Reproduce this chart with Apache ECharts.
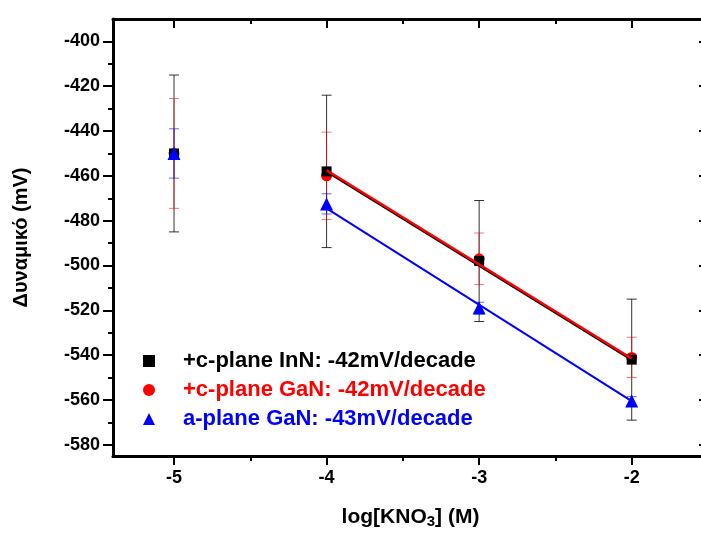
<!DOCTYPE html>
<html>
<head>
<meta charset="utf-8">
<script src="https://cdn.jsdelivr.net/npm/echarts@6/dist/echarts.min.js"></script>
<style>
  html, body { margin: 0; padding: 0; background: #fff; }
  #chart { width: 701px; height: 536px; }
</style>
</head>
<body>
<div id="chart"></div>
<script>
// x = log[KNO3]
const logConc = [-5, -4, -3, -2];
// +c-plane InN
const innC = [-450, -458, -498, -542];
const innCErr = [35, 34, 27, 27];
// +c-plane GaN
const ganC = [-450, -460, -497, -541];
const ganCErr = [24.5, 19.5, 11.5, 9];
// a-plane GaN
const ganA = [-450, -472.5, -519, -560.5];
const ganAErr = [11, 4.5, 2.6, 2];
// linear fits (-4 .. -2)
const fitX = [-4, -2];
const innCFit = [-458, -542];
const ganCFit = [-457.5, -541.5];
const ganAFit = [-474.5, -560.5];
// ticks
const xTicks = [-5, -4, -3, -2];
const xMinor = [-4.5, -3.5, -2.5];
const yTicks = [-580, -560, -540, -520, -500, -480, -460, -440, -420, -400];
const yMinor = [-570, -550, -530, -510, -490, -470, -450, -430, -410];

const names = ['+c-plane InN: -42mV/decade', '+c-plane GaN: -42mV/decade', 'a-plane GaN: -43mV/decade'];
const font = '"Liberation Sans", Arial, sans-serif';

const chart = echarts.init(document.getElementById('chart'));

function errorBars(vals, errs, color, opacity) {
  return {
    type: 'custom',
    name: 'err' + color,
    data: logConc.map((x, i) => [x, vals[i], errs[i]]),
    encode: { x: 0, y: 1 },
    silent: true,
    renderItem(params, api) {
      const x = api.value(0), y = api.value(1), e = api.value(2);
      const top = api.coord([x, y + e]);
      const bot = api.coord([x, y - e]);
      const hw = 5;
      const style = { stroke: color, lineWidth: 1, opacity: opacity };
      return {
        type: 'group',
        children: [
          { type: 'line', shape: { x1: top[0], y1: top[1], x2: bot[0], y2: bot[1] }, style },
          { type: 'line', shape: { x1: top[0] - hw, y1: top[1], x2: top[0] + hw, y2: top[1] }, style },
          { type: 'line', shape: { x1: bot[0] - hw, y1: bot[1], x2: bot[0] + hw, y2: bot[1] }, style },
        ],
      };
    },
  };
}

function fitLine(ys, color, width) {
  return {
    type: 'line',
    name: 'fit' + color,
    data: fitX.map((x, i) => [x, ys[i]]),
    symbol: 'none',
    lineStyle: { color: color, width: width },
    silent: true,
  };
}

function scatter(name, vals, symbol, size, color) {
  return {
    type: 'scatter',
    name: name,
    data: logConc.map((x, i) => [x, vals[i]]),
    symbol: symbol,
    symbolSize: size,
    itemStyle: { color: color, opacity: 1 },
  };
}

function xAx(pos, ticks, len, inside, main) {
  return {
    type: 'value',
    position: pos,
    min: -5.4,
    max: -1.5,
    axisLine: { show: main, onZero: false, lineStyle: { color: '#000', width: 3 } },
    axisTick: { show: true, inside: inside, length: len, customValues: ticks, lineStyle: { color: '#000', width: 2 } },
    axisLabel: { show: main && pos === 'bottom', customValues: ticks, margin: 13, color: '#000', fontSize: 18, fontWeight: 'bold', fontFamily: font },
    splitLine: { show: false },
  };
}

function yAx(pos, ticks, len, inside, main) {
  return {
    type: 'value',
    position: pos,
    min: -585,
    max: -390,
    axisLine: { show: main, onZero: false, lineStyle: { color: '#000', width: 3 } },
    axisTick: { show: true, inside: inside, length: len, customValues: ticks, lineStyle: { color: '#000', width: 2 } },
    axisLabel: { show: main && pos === 'left', customValues: ticks, margin: 13, color: '#000', fontSize: 18, fontWeight: 'bold', fontFamily: font },
    splitLine: { show: false },
  };
}

const xMain = xAx('bottom', xTicks, 9, false, true);
xMain.name = '{a|log[KNO}{s|3}{a|] (M)}';
xMain.nameLocation = 'middle';
xMain.nameGap = 50;
xMain.nameTextStyle = {
  rich: {
    a: { fontSize: 21, fontWeight: 'bold', fontFamily: font, color: '#000', lineHeight: 22 },
    s: { fontSize: 15, fontWeight: 'bold', fontFamily: font, color: '#000', lineHeight: 22, padding: [10, 0, 0, 0] },
  },
};

const yMain = yAx('left', yTicks, 10, false, true);
yMain.name = 'Δυναμικό (mV)';
yMain.nameLocation = 'middle';
yMain.nameGap = 82;
yMain.nameTextStyle = { fontSize: 20, fontWeight: 'bold', fontFamily: font, color: '#000' };

const option = {
  animation: false,
  backgroundColor: '#fff',
  grid: { left: 113, top: 19, width: 595, height: 437, outerBoundsMode: 'none' },
  xAxis: [
    xMain,
    xAx('bottom', xMinor, 5, false, false),
    xAx('top', xTicks, 9, true, true),
    xAx('top', xMinor, 5, true, false),
  ],
  yAxis: [
    yMain,
    yAx('left', yMinor, 5, false, false),
    yAx('right', yTicks, 9, true, true),
    yAx('right', yMinor, 5, true, false),
  ],
  legend: {
    orient: 'vertical',
    left: 143,
    top: 350,
    padding: 0,
    itemGap: 7,
    itemWidth: 12,
    itemHeight: 12,
    textStyle: { fontSize: 22, fontWeight: 'bold', fontFamily: font, lineHeight: 21, padding: [0, 0, 0, 23] },
    data: [
      { name: names[0], icon: 'rect', textStyle: { color: '#000' } },
      { name: names[1], icon: 'circle', textStyle: { color: '#ff0000' } },
      { name: names[2], icon: 'triangle', textStyle: { color: '#0000ff' } },
    ],
    selectedMode: false,
  },
  series: [
    errorBars(innC, innCErr, '#000000', 0.8),
    errorBars(ganC, ganCErr, '#ff0000', 0.55),
    errorBars(ganA, ganAErr, '#0000ff', 0.6),
    fitLine(innCFit, '#000000', 2.5),
    fitLine(ganCFit, '#ff0000', 2.5),
    fitLine(ganAFit, '#0000ff', 2),
    scatter(names[1], ganC, 'circle', 11, '#ff0000'),
    scatter(names[0], innC, 'rect', 10, '#000000'),
    scatter(names[2], ganA, 'triangle', 13, '#0000ff'),
  ],
};

chart.setOption(option);
</script>
</body>
</html>
